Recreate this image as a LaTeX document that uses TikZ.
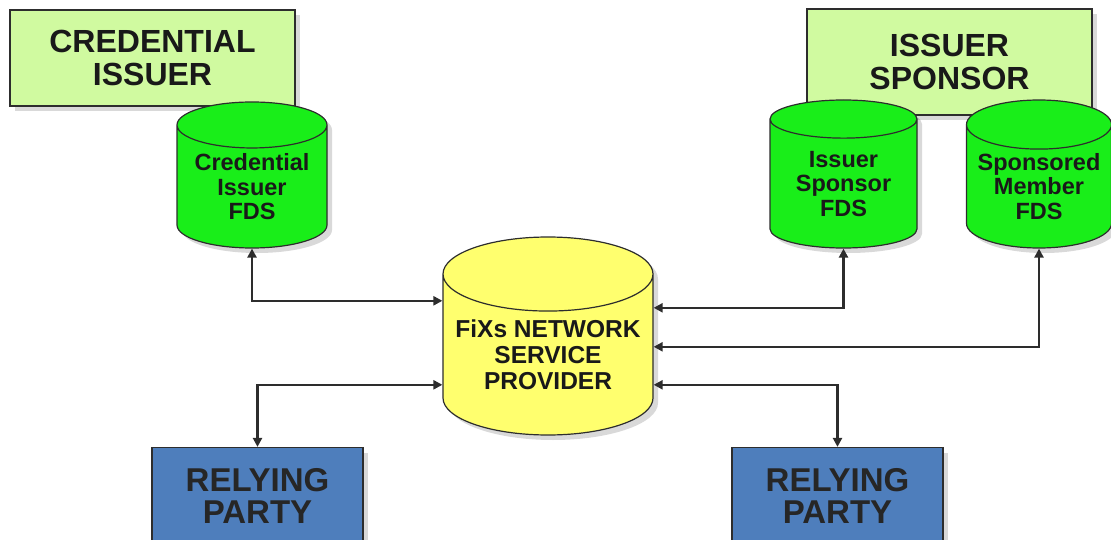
\documentclass[tikz,border=0pt]{standalone}
\usepackage{fontspec}
\setmainfont{Liberation Sans}
\usetikzlibrary{shapes.geometric,shadows,arrows.meta}
\definecolor{verdeclaro}{RGB}{208,250,160}
\definecolor{verde}{RGB}{25,238,25}
\definecolor{amarillo}{RGB}{255,255,110}
\definecolor{azul}{RGB}{78,126,188}
\definecolor{borde}{RGB}{45,45,45}
\tikzset{
  sombra/.style={drop shadow={shadow xshift=5pt,shadow yshift=-5pt,opacity=.15,fill=black}},
  caja/.style={draw=borde,line width=1.8pt,fill=verdeclaro,sombra,align=center,
    font=\fontsize{32}{33}\selectfont\bfseries,text=black!90},
  parte/.style={draw=borde,line width=1.2pt,fill=azul,sombra,align=center,
    minimum width=211pt,minimum height=97pt,
    font=\fontsize{33}{32}\selectfont\bfseries,text=black!85},
  base/.style={cylinder,shape border rotate=90,aspect=0.4,draw=borde,line width=1.2pt,
    fill=verde,sombra,align=center,inner sep=0pt,anchor=shape center,
    font=\fontsize{23.5}{24.5}\selectfont\bfseries,text=black!90},
  enlace/.style={draw=borde,line width=2.4pt,
    {Triangle[length=9pt,width=9pt]}-{Triangle[length=9pt,width=9pt]}}
}
\begin{document}
\begin{tikzpicture}[x=1pt,y=-1pt]
            \useasboundingbox (0,0) rectangle (1111,540);
            % Emisor de credenciales
            \node[caja,minimum width=285pt,minimum height=96pt] (emisor) at (152.5,58) {CREDENTIAL\\ISSUER};
            % Patrocinador
            \node[caja,minimum width=285pt,minimum height=106pt] (patrocinador) at (949.5,62) {ISSUER\\SPONSOR};

            % Bases de datos FDS
            \node[base,minimum width=150pt,minimum height=146pt] (fdsemisor) at (252,175) {Credential\\Issuer\\FDS};
            \node[base,minimum width=147pt,minimum height=148pt] (fdspatro) at (843.5,174) {Issuer\\Sponsor\\FDS};
            \node[base,minimum width=145pt,minimum height=148pt] (fdsmiembro) at (1039,174) {Sponsored\\Member\\FDS};

            % Proveedor de red
            \node[base,fill=amarillo,minimum width=210pt,minimum height=198pt,
              font=\fontsize{24.5}{26}\selectfont\bfseries] (fixs) at (548,336) {FiXs NETWORK\\SERVICE\\PROVIDER};

            % Partes que confian
            \node[parte] (parte1) at (257.5,496) {RELYING\\PARTY};
            \node[parte] (parte2) at (837.5,496) {RELYING\\PARTY};

            % Enlaces
            \draw[enlace] (fdsemisor.south) |- ([yshift=54pt]fixs.west);
            \draw[enlace] ([yshift=-30pt]fixs.west) -| (parte1.north);
            \draw[enlace] ([yshift=47pt]fixs.east) -| (fdspatro.south);
            \draw[enlace] ([yshift=8pt]fixs.east) -| (fdsmiembro.south);
            \draw[enlace] ([yshift=-30pt]fixs.east) -| (parte2.north);
\end{tikzpicture}
\end{document}
